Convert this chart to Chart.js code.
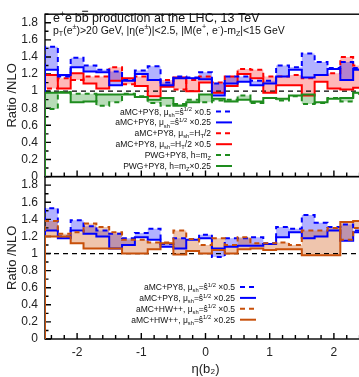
<!DOCTYPE html>
<html>
<head>
<meta charset="utf-8">
<script src="https://cdn.jsdelivr.net/npm/chart.js@4.4.1/dist/chart.umd.min.js"></script>
<style>
  html, body { margin: 0; padding: 0; background: #fff; }
  #wrap { width: 359px; height: 377px; overflow: hidden; }
</style>
</head>
<body>
<div id="wrap"><canvas id="ratio" width="366" height="377"></canvas></div>
<script>
// lower edges of the eta(b2) bins, last bin closes at etaMax
var etaLow = [-2.5, -2.3, -2.1, -1.9, -1.7, -1.5, -1.3, -1.1, -0.9, -0.7, -0.5, -0.3, -0.1,
              0.1, 0.3, 0.5, 0.7, 0.9, 1.1, 1.3, 1.5, 1.7, 1.9, 2.1, 2.3];
var etaMax = 2.5;
var yTickVals = [0, 0.2, 0.4, 0.6, 0.8, 1, 1.2, 1.4, 1.6, 1.8];
var xTickVals = [-2, -1, 0, 1, 2];

// upper panel: ratios to NLO
var py8ShatHalf    = [1.52, 1.17, 1.39, 1.30, 1.25, 1.23, 1.13, 1.24, 1.29, 1.10, 1.17, 1.16, 1.22, 1.09, 1.17, 1.17, 1.12, 1.12, 1.30, 1.28, 1.44, 1.34, 1.27, 1.34, 1.27];
var py8ShatQuarter = [1.25, 1.19, 1.28, 1.23, 1.22, 1.07, 1.12, 1.20, 1.13, 1.07, 1.15, 1.15, 1.14, 0.95, 1.09, 1.11, 1.07, 1.09, 1.17, 1.25, 1.16, 1.19, 1.26, 1.13, 1.25];
var py8Ht          = [1.03, 1.15, 1.13, 1.17, 1.17, 1.28, 1.08, 1.17, 1.13, 1.13, 1.02, 1.13, 1.17, 1.10, 1.17, 1.26, 1.25, 1.17, 1.17, 1.19, 1.15, 1.19, 1.21, 1.40, 1.30];
var py8HtHalf      = [1.19, 1.03, 1.21, 1.09, 1.03, 1.12, 1.15, 1.06, 0.94, 1.05, 1.16, 1.00, 1.10, 0.98, 1.06, 1.20, 1.15, 0.98, 1.07, 1.07, 0.95, 1.11, 1.03, 1.02, 1.04];
var pwgMz          = [0.79, 0.99, 0.97, 0.97, 0.83, 0.87, 0.97, 0.94, 0.86, 0.83, 0.85, 0.90, 0.87, 0.89, 0.90, 0.95, 0.86, 0.92, 0.89, 0.94, 0.85, 0.86, 0.92, 0.88, 0.97];
var pwgMzQuarter   = [0.98, 0.98, 0.87, 0.88, 0.96, 0.96, 0.96, 0.93, 0.90, 0.92, 0.83, 0.87, 0.96, 0.91, 0.88, 0.90, 0.88, 0.92, 0.91, 0.95, 0.96, 0.87, 0.91, 0.92, 0.98];

// lower panel: PY8 vs HW++
var lowPy8Half     = [1.53, 1.20, 1.39, 1.32, 1.27, 1.23, 1.18, 1.24, 1.29, 1.11, 1.18, 1.17, 1.22, 0.96, 1.18, 1.18, 1.19, 1.12, 1.31, 1.29, 1.45, 1.36, 1.31, 1.34, 1.27];
var lowPy8Quarter  = [1.27, 1.18, 1.27, 1.23, 1.20, 1.06, 1.10, 1.19, 1.16, 1.08, 1.06, 1.16, 1.18, 1.06, 1.08, 1.09, 1.09, 1.11, 1.19, 1.25, 1.18, 1.20, 1.27, 1.15, 1.25];
var lowHwHalf      = [1.38, 1.23, 1.25, 1.35, 1.31, 1.25, 1.16, 1.16, 1.13, 1.13, 1.27, 1.17, 1.10, 1.18, 1.10, 1.19, 1.12, 1.12, 1.13, 1.10, 1.27, 1.27, 1.30, 1.16, 1.30];
var lowHwQuarter   = [1.20, 1.20, 1.12, 1.06, 1.06, 1.06, 1.00, 1.00, 1.05, 1.12, 0.99, 1.03, 1.00, 1.04, 1.00, 1.05, 1.06, 1.04, 1.05, 1.05, 0.98, 0.98, 0.98, 1.37, 1.38];

var FONT = '"Liberation Sans", Arial, sans-serif';
var BLUE = '#0000ff', RED = '#ff0000', GREEN = '#1e8c1e', ORANGE = '#c8500a';

// histogram outline: starts from zero at the left edge like histeps
function histo(values) {
    var pts = [{x: etaLow[0], y: 0}];
    values.forEach(function(v, i) { pts.push({x: etaLow[i], y: v}); });
    pts.push({x: etaMax, y: values[values.length - 1]});
    return pts;
}

function band(values, axis, color, dashed, fillColor) {
    return {
        data: histo(values),
        yAxisID: axis,
        borderColor: color,
        borderWidth: 2,
        borderDash: dashed ? [5, 4] : [],
        backgroundColor: fillColor || 'transparent',
        fill: fillColor ? '+1' : false,
        stepped: 'before',
        pointRadius: 0
    };
}

function unity(axis) {
    return {
        data: [{x: etaLow[0], y: 1}, {x: etaMax, y: 1}],
        yAxisID: axis,
        borderColor: '#000',
        borderWidth: 1.2,
        borderDash: [5, 4],
        pointRadius: 0,
        fill: false
    };
}

// text with super/subscripts and overbars
function richText(ctx, parts, x, y, size, align) {
    var small = size * 0.68;
    var widths = parts.map(function(p) {
        ctx.font = ((p[1] === 'sup' || p[1] === 'sub') ? small : size) + 'px ' + FONT;
        return ctx.measureText(p[0]).width;
    });
    var total = widths.reduce(function(a, b) { return a + b; }, 0);
    var cx = align === 'right' ? x - total : x;
    parts.forEach(function(p, i) {
        var kind = p[1] || '';
        var s = (kind === 'sup' || kind === 'sub') ? small : size;
        var dy = kind === 'sup' ? -size * 0.4 : (kind === 'sub' ? size * 0.25 : 0);
        ctx.font = s + 'px ' + FONT;
        ctx.fillText(p[0], cx, y + dy);
        if (kind === 'bar') ctx.fillRect(cx + 0.5, y - size * 0.86, widths[i] - 1, 1);
        cx += widths[i];
    });
}

var shatHalf    = [['aMC+PY8, \u03bc'], ['sh', 'sub'], ['=\u015d'], ['1/2', 'sup'], [' \u00d70.5']];
var shatQuarter = [['aMC+PY8, \u03bc'], ['sh', 'sub'], ['=\u015d'], ['1/2', 'sup'], [' \u00d70.25']];

var legends = [
    {x: 211, y: 111.5, rows: [
        {ds: 2, text: shatHalf},
        {ds: 3, text: shatQuarter},
        {ds: 4, text: [['aMC+PY8, \u03bc'], ['sh', 'sub'], ['=H'], ['T', 'sub'], ['/2']]},
        {ds: 5, text: [['aMC+PY8, \u03bc'], ['sh', 'sub'], ['=H'], ['T', 'sub'], ['/2 \u00d70.5']]},
        {ds: 0, text: [['PWG+PY8, h=m'], ['Z', 'sub']]},
        {ds: 1, text: [['PWG+PY8, h=m'], ['Z', 'sub'], ['\u00d70.25']]}
    ]},
    {x: 235, y: 287, rows: [
        {ds: 9, text: shatHalf},
        {ds: 10, text: shatQuarter},
        {ds: 7, text: [['aMC+HW++, \u03bc'], ['sh', 'sub'], ['=\u015d'], ['1/2', 'sup'], [' \u00d70.5']]},
        {ds: 8, text: [['aMC+HW++, \u03bc'], ['sh', 'sub'], ['=\u015d'], ['1/2', 'sup'], [' \u00d70.25']]}
    ]}
];

// panel borders and inward tick marks
var panelFrame = {
    id: 'panelFrame',
    beforeDatasetsDraw: function(chart) {
        var ctx = chart.ctx, xs = chart.scales.x, area = chart.chartArea;
        ctx.save();
        ctx.strokeStyle = '#000';
        ctx.lineWidth = 1.4;
        ['yTop', 'yBot'].forEach(function(id) {
            var ys = chart.scales[id];
            ctx.strokeRect(area.left, ys.top, area.right - area.left + 5, ys.bottom - ys.top);
            ctx.beginPath();
            yTickVals.forEach(function(v) {
                var py = ys.getPixelForValue(v);
                ctx.moveTo(area.left, py); ctx.lineTo(area.left + 6, py);
                var pm = ys.getPixelForValue(v + 0.1);
                ctx.moveTo(area.left, pm); ctx.lineTo(area.left + 3.5, pm);
            });
            for (var k = -12; k <= 12; k++) {
                var v = k * 0.2, px = xs.getPixelForValue(v);
                var len = xTickVals.indexOf(Math.round(v * 10) / 10) >= 0 ? 6 : 4;
                ctx.moveTo(px, ys.bottom); ctx.lineTo(px, ys.bottom - len);
            }
            ctx.stroke();
        });
        ctx.restore();
    },
    afterDatasetsDraw: function(chart) {
        var ctx = chart.ctx;
        ctx.save();
        ctx.fillStyle = '#111';
        ctx.textBaseline = 'alphabetic';
        richText(ctx, [['e'], ['+', 'sup'], ['e'], ['-', 'sup'], ['b'], ['b', 'bar'], [' production at the LHC, 13 TeV']], 53, 21.5, 12.5);
        richText(ctx, [['p'], ['T', 'sub'], ['(e'], ['\u00b1', 'sup'], [')>20 GeV, |\u03b7(e'], ['\u00b1', 'sup'],
                       [')|<2.5, |M(e'], ['+', 'sup'], [', e'], ['-', 'sup'], [')-m'], ['Z', 'sub'], ['|<15 GeV']], 53, 33.5, 10.5);
        legends.forEach(function(lg) {
            lg.rows.forEach(function(row, i) {
                var y = lg.y + i * 10.9;
                var ds = chart.data.datasets[row.ds];
                ctx.fillStyle = '#111';
                richText(ctx, row.text, lg.x, y + 3, 8.5, 'right');
                ctx.beginPath();
                ctx.strokeStyle = ds.borderColor;
                ctx.lineWidth = ds.borderWidth;
                ctx.setLineDash(ds.borderDash);
                ctx.moveTo(lg.x + 5, y); ctx.lineTo(lg.x + 21, y);
                ctx.stroke();
                ctx.setLineDash([]);
            });
        });
        ctx.restore();
    }
};

function yPanel(title) {
    return {
        type: 'linear',
        position: 'left',
        stack: 'panels',
        stackWeight: 1,
        min: 0,
        max: 1.9,
        grid: {display: false, drawTicks: false},
        border: {display: false},
        afterBuildTicks: function(s) { s.ticks = yTickVals.map(function(v) { return {value: v}; }); },
        afterFit: function(s) { s.width = 45; },
        ticks: {
            autoSkip: false,
            padding: 7,
            color: '#222',
            font: {family: FONT, size: 12},
            callback: function(v) { return String(+v.toFixed(1)); }
        },
        title: {display: true, text: title, color: '#222', font: {family: FONT, size: 13}, padding: {top: 5, bottom: 0}}
    };
}

window.onload = function() {
    var ctx = document.getElementById('ratio').getContext('2d');
    window.ratioChart = new Chart(ctx, {
        type: 'line',
        plugins: [panelFrame],
        data: {
            datasets: [
                band(pwgMz, 'yTop', GREEN, true, 'rgba(0,128,0,0.28)'),
                band(pwgMzQuarter, 'yTop', GREEN, false),
                band(py8ShatHalf, 'yTop', BLUE, true, 'rgba(0,0,255,0.3)'),
                band(py8ShatQuarter, 'yTop', BLUE, false),
                band(py8Ht, 'yTop', RED, true, 'rgba(255,0,0,0.28)'),
                band(py8HtHalf, 'yTop', RED, false),
                unity('yTop'),
                band(lowHwHalf, 'yBot', ORANGE, true, 'rgba(210,90,20,0.35)'),
                band(lowHwQuarter, 'yBot', ORANGE, false),
                band(lowPy8Half, 'yBot', BLUE, true, 'rgba(0,0,255,0.3)'),
                band(lowPy8Quarter, 'yBot', BLUE, false),
                unity('yBot')
            ]
        },
        options: {
            responsive: false,
            animation: false,
            layout: {padding: {top: 6, left: 0, right: 0, bottom: 0}},
            plugins: {
                legend: {display: false},
                tooltip: {enabled: false},
                filler: {drawTime: 'beforeDatasetsDraw'}
            },
            scales: {
                x: {
                    type: 'linear',
                    min: -2.5,
                    max: 2.5,
                    grid: {display: false, drawTicks: false},
                    border: {display: false},
                    afterBuildTicks: function(s) { s.ticks = xTickVals.map(function(v) { return {value: v}; }); },
                    afterFit: function(s) { s.height = 38; },
                    ticks: {padding: 6, color: '#222', font: {family: FONT, size: 12}, maxRotation: 0},
                    title: {display: true, text: '\u03b7(b\u2082)', color: '#222', font: {family: FONT, size: 13}, padding: {top: 0, bottom: 0}}
                },
                // stacked axes are laid out bottom-up
                yBot: yPanel('Ratio /NLO'),
                yTop: yPanel('Ratio /NLO')
            }
        }
    });
};
</script>
</body>
</html>
